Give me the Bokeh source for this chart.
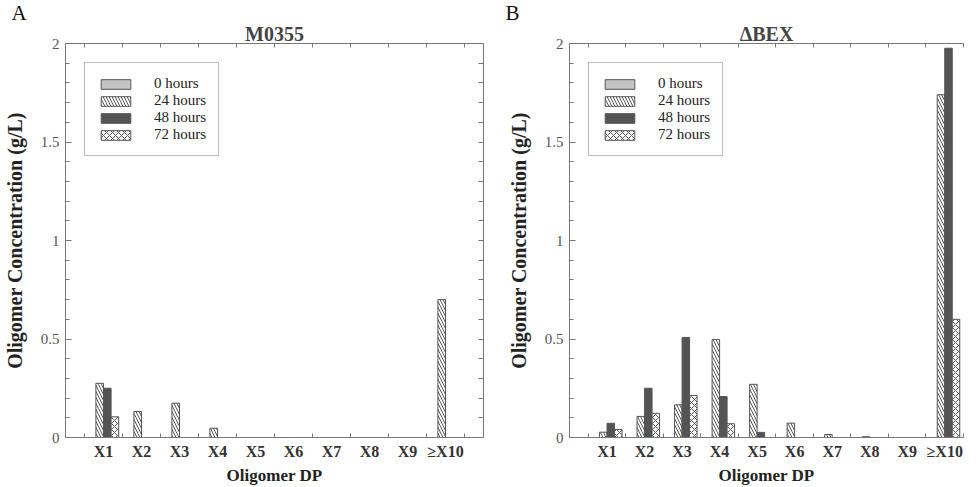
from bokeh.plotting import figure
from bokeh.models import ColumnDataSource, LinearAxis, FixedTicker, Range1d, Title
from bokeh.layouts import row
from bokeh.transform import dodge
from bokeh.embed import file_html
from bokeh.resources import INLINE

# ---------------- data ----------------
categories = ["X1", "X2", "X3", "X4", "X5", "X6", "X7", "X8", "X9", "\u2265X10"]
series = ["0 hours", "24 hours", "48 hours", "72 hours"]

m0355_0h = [0, 0, 0, 0, 0, 0, 0, 0, 0, 0]
m0355_24h = [0.275, 0.132, 0.174, 0.047, 0, 0, 0, 0, 0, 0.70]
m0355_48h = [0.25, 0, 0, 0, 0, 0, 0, 0, 0, 0]
m0355_72h = [0.105, 0, 0, 0, 0, 0, 0, 0, 0, 0]

dbex_0h = [0, 0, 0, 0, 0, 0, 0, 0, 0, 0]
dbex_24h = [0.027, 0.107, 0.166, 0.497, 0.27, 0.073, 0.015, 0.004, 0, 1.74]
dbex_48h = [0.072, 0.25, 0.508, 0.208, 0.026, 0, 0, 0, 0, 1.976]
dbex_72h = [0.041, 0.123, 0.213, 0.07, 0, 0, 0, 0, 0, 0.60]

y_ticks = [0, 0.5, 1, 1.5, 2]
y_tick_labels = ["0", "0.5", "1", "1.5", "2"]

# ---------------- styles ----------------
FONT = "Liberation Serif"
AX = "#777777"
styles = [
    dict(fill_color="#c4c4c4", hatch_pattern=None),
    dict(fill_color="white", hatch_pattern="\\"),
    dict(fill_color="#545454", hatch_pattern=None),
    dict(fill_color="white", hatch_pattern="x"),
]
offsets = [-0.3, -0.1, 0.1, 0.3]
idx = list(range(1, len(categories) + 1))
FRAME_H = 394


def base_axis(ax, ticker):
    ax.ticker = ticker
    ax.axis_line_color = AX
    ax.major_tick_in = 6
    ax.major_tick_out = 0
    ax.minor_tick_in = 4
    ax.minor_tick_out = 0
    ax.major_tick_line_color = AX
    ax.minor_tick_line_color = AX


def make_panel(title, data, frame_w, b_left, b_right, x_end, right_axis, letter, letter_x):
    p = figure(frame_width=frame_w, frame_height=FRAME_H,
               x_range=Range1d(0, x_end), y_range=Range1d(0, 2),
               output_backend="svg", toolbar_location=None, title=None,
               min_border_left=b_left, min_border_right=b_right,
               min_border_top=30, min_border_bottom=40)
    p.grid.visible = False
    p.outline_line_color = None
    p.background_fill_color = "white"
    p.border_fill_color = "white"

    boundaries = [i + 0.5 for i in range(0, 11)]
    minor_y = [round(i * 0.1, 1) for i in range(21)]
    xt = FixedTicker(ticks=idx, minor_ticks=boundaries)
    yt = FixedTicker(ticks=y_ticks, minor_ticks=minor_y)

    # bottom x axis
    xa = p.xaxis[0]
    base_axis(xa, xt)
    xa.major_tick_line_color = None
    xa.major_label_overrides = {i: c for i, c in zip(idx, categories)}
    xa.major_label_text_font = FONT
    xa.major_label_text_font_size = "16px"
    xa.major_label_text_font_style = "bold"
    xa.major_label_text_color = "#333333"
    xa.major_label_standoff = 5
    xa.axis_label = "Oligomer DP"
    xa.axis_label_text_font = FONT
    xa.axis_label_text_font_size = "17px"
    xa.axis_label_text_font_style = "bold"
    xa.axis_label_text_color = "#222222"
    xa.axis_label_standoff = 3

    # left y axis
    ya = p.yaxis[0]
    base_axis(ya, yt)
    ya.major_label_overrides = {t: l for t, l in zip(y_ticks, y_tick_labels)}
    ya.major_label_text_font = FONT
    ya.major_label_text_font_size = "15px"
    ya.major_label_text_color = "#555555"
    ya.major_label_standoff = 6
    ya.axis_label = "Oligomer Concentration (g/L)"
    ya.axis_label_text_font = FONT
    ya.axis_label_text_font_size = "20px"
    ya.axis_label_text_font_style = "bold"
    ya.axis_label_text_color = "#222222"
    ya.axis_label_standoff = 12

    # mirrored axes (ticks only, no labels)
    top = LinearAxis(ticker=FixedTicker(ticks=[], minor_ticks=boundaries))
    base_axis(top, top.ticker)
    top.major_label_standoff = 0
    p.add_layout(top, "above")
    if right_axis:
        rt = LinearAxis(ticker=FixedTicker(ticks=[], minor_ticks=minor_y))
        base_axis(rt, rt.ticker)
        rt.minor_tick_in = 5
        rt.major_label_standoff = 0
        p.add_layout(rt, "right")

    # titles: panel title, then panel letter (outermost)
    p.add_layout(Title(text=title, align="center", text_font=FONT, text_font_size="20px",
                       text_font_style="bold", standoff=-3), "above")
    p.add_layout(Title(text=letter, align="left", offset=letter_x, text_font=FONT,
                       text_font_size="21px", text_font_style="normal",
                       text_color="#111111", standoff=-4), "above")

    src = ColumnDataSource(dict(x=idx, s0=data[0], s1=data[1], s2=data[2], s3=data[3]))
    for k, (name, st, off) in enumerate(zip(series, styles, offsets)):
        kw = dict(fill_color=st["fill_color"], line_color="#555555", line_width=1)
        if st["hatch_pattern"] is not None:
            kw.update(hatch_pattern=st["hatch_pattern"], hatch_color="#555555",
                      hatch_scale=6, hatch_weight=1)
        p.vbar(x=dodge("x", off), top="s%d" % k, width=0.2, bottom=0, source=src,
               legend_label=name, **kw)

    lg = p.legend[0]
    lg.location = "top_left"
    lg.margin = 19
    lg.padding = 12
    lg.spacing = 0
    lg.glyph_width = 37
    lg.glyph_height = 12
    lg.label_height = 15
    lg.label_standoff = 20
    lg.label_text_font = FONT
    lg.label_text_font_size = "15px"
    lg.label_text_color = "#222222"
    lg.border_line_color = AX
    lg.border_line_width = 1
    lg.background_fill_alpha = 1
    return p


left = make_panel("M0355", [m0355_0h, m0355_24h, m0355_48h, m0355_72h],
                  418, 58, 16, 11, True, "A", -54)
right = make_panel("\u0394BEX", [dbex_0h, dbex_24h, dbex_48h, dbex_72h],
                   394, 70, 4, 10.5, False, "B", -64)

layout = row(left, right)
open("out.html", "w").write(file_html(layout, INLINE))
